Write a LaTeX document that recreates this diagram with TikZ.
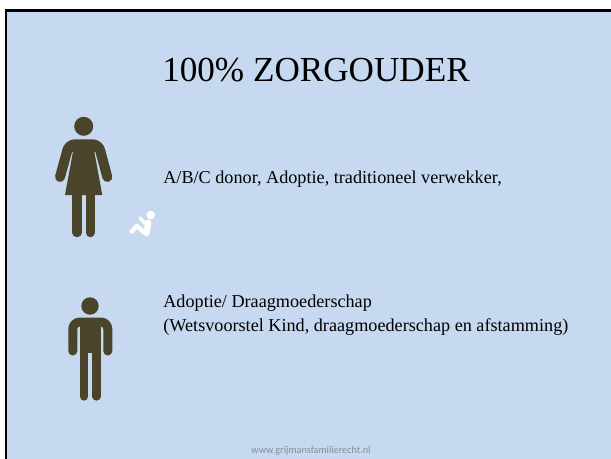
\documentclass[tikz,border=0pt]{standalone}
\usepackage{fontspec}
\setmainfont{Liberation Serif}
\newfontfamily\footfont{Carlito}
\usepackage{xcolor}
\definecolor{slidebg}{HTML}{C6D9F1}
\definecolor{figbrown}{HTML}{4A452A}
\definecolor{footgray}{HTML}{858C96}
\begin{document}
\begin{tikzpicture}[x=0.02cm, y=-0.02cm, inner sep=0pt,
	limb/.style={draw=figbrown, line cap=round, line join=round},
	babylimb/.style={draw=white, line cap=round, line join=round},
	bodytext/.style={anchor=base west, font=\fontsize{10.35}{12}\selectfont}]
	
	\useasboundingbox (0,0) rectangle (611,459);
	
	\fill[white] (0,0) rectangle (611,459);
	\fill[slidebg] (7,12) rectangle (611,459);
	\fill[black] (5,9.5) rectangle (611,12);
	\fill[black] (5,9.5) rectangle (7,459);
	
	\node[anchor=base, font=\fontsize{20}{24}\selectfont](title) at (316,82) {100\% ZORGOUDER};
	\node[bodytext](donor) at (163,183) {A/B/C donor, Adoptie, traditioneel verwekker,};
	\node[bodytext](adoptie) at (163,307) {Adoptie/ Draagmoederschap};
	\node[bodytext](wet) at (163,331.5) {(Wetsvoorstel Kind, draagmoederschap en afstamming)};
	\node[anchor=base, text=footgray, font=\footfont\fontsize{5.8}{7}\selectfont](site) at (311,453) {www.grijmansfamilierecht.nl};
	
	% vrouw
	\fill[figbrown] (83.7,126.3) circle (9.5);
	\draw[limb, line width=0.2cm, rounded corners=0.12cm] (60,177) -- (69,144.3) -- (98.5,144.3) -- (107.3,177);
	\fill[figbrown] (73.3,150) -- (65,195) -- (102.3,195) -- (94,150) -- cycle;
	\fill[figbrown] (72,140) rectangle (95,152);
	\draw[limb, line width=0.186cm] (77,192) -- (77,232.6);
	\draw[limb, line width=0.186cm] (90.3,192) -- (90.3,232.6);
	
	% baby
	\fill[white] (150.7,215) circle (4.3);
	\draw[babylimb, line width=0.12cm] (148.3,222.5) -- (146.7,233);
	\draw[babylimb, line width=0.09cm] (145,233) -- (136.7,226) -- (131.7,231.5);
	\draw[babylimb, line width=0.07cm] (140,218) -- (146.7,225);
	
	% man
	\fill[figbrown] (90,306) circle (8.7);
	\draw[limb, line width=0.18cm, rounded corners=0.14cm] (72.8,351) -- (72.8,322) -- (107.8,322) -- (107.8,351);
	\fill[figbrown] (80,320) rectangle (100.7,353.3);
	\draw[limb, line width=0.166cm] (84.2,350) -- (84.2,396.5);
	\draw[limb, line width=0.166cm] (96.6,350) -- (96.6,396.5);
\end{tikzpicture}
\end{document}
